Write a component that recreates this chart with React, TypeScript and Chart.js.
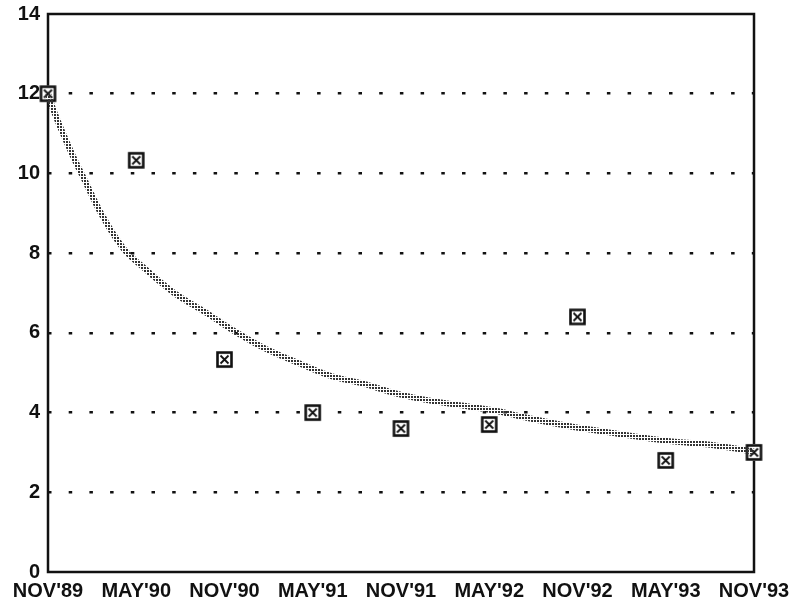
import React, { useEffect, useRef } from "react";
import { Chart, registerables } from "chart.js";

Chart.register(...registerables);

const categories = ["NOV'89", "MAY'90", "NOV'90", "MAY'91", "NOV'91", "MAY'92", "NOV'92", "MAY'93", "NOV'93"];
const observed = [12.0, 10.33, 5.33, 4.0, 3.6, 3.7, 6.4, 2.8, 3.0];
const trendX = [0, 0.06, 0.29, 0.4, 0.6, 0.86, 1.05, 1.43, 1.81, 2.07, 2.44, 2.83, 3.2, 3.58, 3.96, 4.33, 4.71, 5.09, 5.32, 5.88, 6.45, 7.02, 7.58, 8.0];
const trendY = [12.0, 11.6, 10.4, 9.9, 9.0, 8.1, 7.7, 7.0, 6.48, 6.1, 5.63, 5.25, 4.92, 4.72, 4.47, 4.3, 4.17, 4.04, 3.92, 3.67, 3.47, 3.29, 3.17, 3.02];
const yMin = 0;
const yMax = 14;
const yStep = 2;

const FONT = { family: "'Liberation Sans', Arial, sans-serif", size: 20, weight: "bold" as const };

export default function App() {
  const ref = useRef<HTMLCanvasElement>(null);

  useEffect(() => {
    const canvas = ref.current;
    if (!canvas) return;

    const m = document.createElement("canvas");
    m.width = 19;
    m.height = 19;
    const mc = m.getContext("2d")!;
    mc.fillStyle = "#fff";
    mc.fillRect(1, 1, 17, 17);
    mc.strokeStyle = "#111";
    mc.lineWidth = 2.6;
    mc.strokeRect(2.5, 2.5, 14, 14);
    mc.lineWidth = 1.8;
    mc.beginPath();
    mc.moveTo(5.5, 5.5);
    mc.lineTo(13.5, 13.5);
    mc.moveTo(13.5, 5.5);
    mc.lineTo(5.5, 13.5);
    mc.stroke();

    const p = document.createElement("canvas");
    p.width = 3;
    p.height = 3;
    const pc = p.getContext("2d")!;
    pc.fillStyle = "#333";
    pc.fillRect(0, 0, 2, 2);
    const pattern = canvas.getContext("2d")!.createPattern(p, "repeat");

    const frame = {
      id: "frame",
      beforeDatasetsDraw(chart: any) {
        const { ctx, chartArea } = chart;
        ctx.save();
        ctx.strokeStyle = "#111";
        ctx.lineWidth = 2.5;
        ctx.strokeRect(chartArea.left, chartArea.top, chartArea.right - chartArea.left, chartArea.bottom - chartArea.top);
        ctx.restore();
      },
    };

    const chart = new Chart(canvas, {
      type: "scatter",
      data: {
        datasets: [
          {
            label: "trend",
            data: trendX.map((x, i) => ({ x, y: trendY[i] })),
            showLine: true,
            borderColor: pattern as any,
            borderWidth: 6,
            pointRadius: 0,
            cubicInterpolationMode: "monotone",
            clip: false as any,
          },
          {
            label: "observed",
            data: observed.map((y, i) => ({ x: i, y })),
            showLine: false,
            pointStyle: m as any,
            pointRadius: 9,
            clip: false as any,
          },
        ],
      },
      options: {
        animation: false,
        responsive: false,
        layout: { padding: { top: 14, right: 37, left: 0, bottom: 0 } },
        plugins: { legend: { display: false }, tooltip: { enabled: false } },
        scales: {
          x: {
            type: "linear",
            min: 0,
            max: categories.length - 1,
            afterFit: (s: any) => {
              s.height = 31;
              s.paddingLeft = 0;
              s.paddingRight = 0;
            },
            ticks: {
              stepSize: 1,
              autoSkip: false,
              maxRotation: 0,
              padding: 7,
              color: "#111",
              font: FONT,
              callback: (v: any) => categories[Math.round(Number(v))] ?? "",
            },
            grid: { display: false, drawTicks: false },
            border: { display: false },
          },
          y: {
            min: yMin,
            max: yMax,
            afterFit: (s: any) => {
              s.width = 48;
              s.paddingTop = 0;
              s.paddingBottom = 0;
            },
            ticks: { stepSize: yStep, padding: 8, color: "#111", font: FONT },
            grid: {
              drawTicks: false,
              lineWidth: 2.5,
              color: (c: any) => (c.tick && (c.tick.value === yMin || c.tick.value === yMax) ? "rgba(0,0,0,0)" : "#111"),
            },
            border: { display: false, dash: [3.5, 17.2] },
          },
        },
      },
      plugins: [frame],
    });

    return () => chart.destroy();
  }, []);

  return (
    <div style={{ position: "fixed", left: 0, top: 0, width: 791, height: 603, background: "#fff" }}>
      <canvas ref={ref} width={791} height={603} style={{ display: "block" }} />
    </div>
  );
}
